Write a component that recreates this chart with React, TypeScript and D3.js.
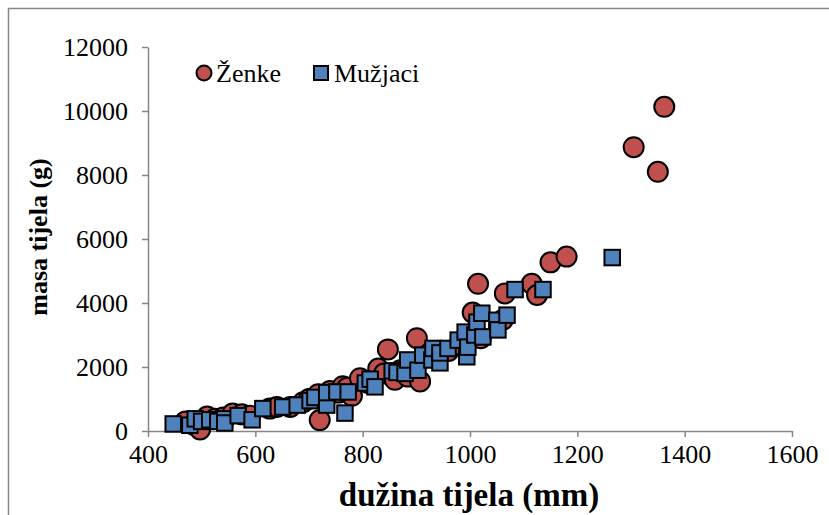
import React, { useEffect, useRef } from 'react';
import * as d3 from 'd3';

// Ženke (females) - length (mm), mass (g)
const zenkeLength = [470, 485, 497, 510, 525, 540, 558, 575, 590, 627, 640, 665, 689, 700, 717, 720, 739, 755, 763, 771, 780, 795, 810, 829, 840, 847, 860, 870, 884, 895, 901, 907, 930, 960, 980, 1005, 1015, 1020, 1061, 1065, 1115, 1125, 1150, 1180, 1305, 1350, 1362];
const zenkeMass = [300, 200, 50, 450, 380, 420, 550, 520, 480, 700, 750, 750, 900, 1000, 1150, 340, 1250, 1200, 1400, 1350, 1100, 1650, 1500, 1950, 1800, 2550, 1600, 1900, 1700, 2100, 2900, 1550, 2300, 2500, 2700, 3700, 4600, 2900, 3470, 4300, 4600, 4250, 5270, 5450, 8870, 8100, 10130];

// Mužjaci (males)
const muzjaciLength = [447, 478, 488, 500, 515, 530, 543, 543, 568, 594, 614, 651, 678, 702, 711, 733, 733, 752, 767, 773, 805, 814, 823, 855, 864, 879, 884, 903, 912, 929, 931, 944, 944, 959, 978, 991, 994, 996, 1009, 1013, 1022, 1024, 1050, 1052, 1069, 1084, 1136, 1265];
const muzjaciMass = [220, 180, 380, 300, 350, 300, 380, 250, 480, 350, 700, 750, 810, 950, 1050, 810, 1200, 1220, 560, 1220, 1500, 1620, 1380, 1880, 1830, 1800, 2220, 1900, 2370, 2220, 2580, 2130, 2440, 2580, 2840, 3090, 2320, 2620, 3000, 3400, 3680, 2940, 3460, 3160, 3620, 4420, 4420, 5420];

const xTicks = [400, 600, 800, 1000, 1200, 1400, 1600];
const yTicks = [0, 2000, 4000, 6000, 8000, 10000, 12000];

const seriesNames = ['Ženke', 'Mužjaci'];

const W = 829;
const H = 515;

const App: React.FC = () => {
  const svgRef = useRef<SVGSVGElement>(null);

  useEffect(() => {
    const svg = d3.select(svgRef.current);
    svg.selectAll('*').remove();

    const font = '"Liberation Serif", "Times New Roman", serif';
    const axisColor = '#868686';

    // outer chart border
    svg.append('rect')
      .attr('x', 8.5)
      .attr('y', 8.5)
      .attr('width', 900)
      .attr('height', 600)
      .attr('fill', 'white')
      .attr('stroke', axisColor)
      .attr('stroke-width', 1.5);

    const x = d3.scaleLinear().domain([400, 1600]).range([148, 792]);
    const y = d3.scaleLinear().domain([0, 12000]).range([431, 47]);

    // X axis
    const gx = svg.append('g').attr('transform', `translate(0, ${y(0)})`)
      .call(d3.axisBottom(x).tickValues(xTicks).tickSize(6).tickSizeOuter(0).tickPadding(8));
    gx.select('.domain').attr('stroke', axisColor).attr('stroke-width', 1.5);
    gx.selectAll('.tick line').attr('stroke', axisColor).attr('stroke-width', 1.5);
    gx.selectAll('.tick text')
      .attr('font-family', font).attr('font-size', 26).attr('fill', '#000')
      .text(d => String(d));

    // Y axis
    const gy = svg.append('g').attr('transform', `translate(${x(400)}, 0)`)
      .call(d3.axisLeft(y).tickValues(yTicks).tickSize(6).tickSizeOuter(0).tickPadding(14));
    gy.select('.domain').attr('stroke', axisColor).attr('stroke-width', 1.5);
    gy.selectAll('.tick line').attr('stroke', axisColor).attr('stroke-width', 1.5);
    gy.selectAll('.tick text')
      .attr('font-family', font).attr('font-size', 26).attr('fill', '#000')
      .text(d => String(d));

    // Axis titles
    svg.append('text')
      .attr('x', 469)
      .attr('y', 506)
      .attr('text-anchor', 'middle')
      .attr('font-family', font)
      .attr('font-weight', 'bold')
      .attr('font-size', 33)
      .text('dužina tijela (mm)');

    svg.append('text')
      .attr('transform', 'translate(47, 237) rotate(-90)')
      .attr('text-anchor', 'middle')
      .attr('font-family', font)
      .attr('font-weight', 'bold')
      .attr('font-size', 26)
      .text('masa tijela (g)');

    // Ženke circles
    const zenke = zenkeLength.map((l, i) => ({ l, m: zenkeMass[i] }));
    svg.append('g').selectAll('circle')
      .data(zenke)
      .enter()
      .append('circle')
      .attr('cx', d => x(d.l))
      .attr('cy', d => y(d.m))
      .attr('r', 10)
      .attr('fill', '#C0504D')
      .attr('stroke', '#000')
      .attr('stroke-width', 2);

    // Mužjaci squares
    const muzjaci = muzjaciLength.map((l, i) => ({ l, m: muzjaciMass[i] }));
    const s = 15.5;
    svg.append('g').selectAll('rect')
      .data(muzjaci)
      .enter()
      .append('rect')
      .attr('x', d => x(d.l) - s / 2)
      .attr('y', d => y(d.m) - s / 2)
      .attr('width', s)
      .attr('height', s)
      .attr('fill', '#4F81BD')
      .attr('stroke', '#000')
      .attr('stroke-width', 2);

    // Legend
    const lg = svg.append('g');
    lg.append('circle')
      .attr('cx', 204).attr('cy', 73).attr('r', 7.5)
      .attr('fill', '#C0504D').attr('stroke', '#000').attr('stroke-width', 2);
    lg.append('text')
      .attr('x', 216).attr('y', 82)
      .attr('font-family', font).attr('font-size', 26)
      .text(seriesNames[0]);
    lg.append('rect')
      .attr('x', 314).attr('y', 66).attr('width', 14).attr('height', 14)
      .attr('fill', '#4F81BD').attr('stroke', '#000').attr('stroke-width', 2);
    lg.append('text')
      .attr('x', 334).attr('y', 82)
      .attr('font-family', font).attr('font-size', 26)
      .text(seriesNames[1]);
  }, []);

  return (
    <svg
      ref={svgRef}
      width={W}
      height={H}
      style={{ position: 'absolute', left: 0, top: 0, display: 'block' }}
    />
  );
};

export default App;
